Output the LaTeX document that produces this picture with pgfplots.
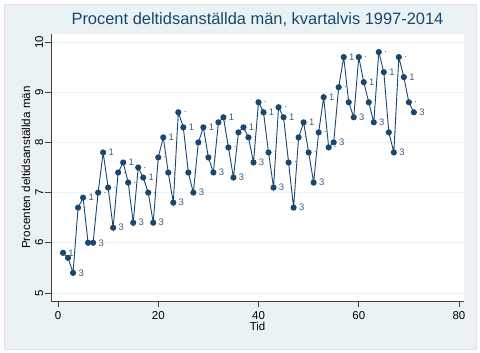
\documentclass[border=0pt]{standalone}
\usepackage{fontspec}
\setmainfont{Liberation Sans}
\usepackage{pgfplots}
\pgfplotsset{compat=1.18}
\definecolor{stbg}{RGB}{234,242,243}
\definecolor{stframe}{RGB}{220,228,230}
\definecolor{stnavy}{RGB}{26,71,111}
\definecolor{stlab}{RGB}{60,95,130}
\begin{document}
\begin{tikzpicture}
\path[use as bounding box] (-51bp,-52bp) rectangle (429bp,301bp);
\fill[white] (-51bp,-52bp) rectangle (429bp,301bp);
\filldraw[fill=stbg,draw=stframe,line width=0.6bp] (-47bp,-48bp) rectangle (425bp,297bp);
\begin{axis}[
  at={(0,0)}, anchor=south west,
  scale only axis, width=413bp, height=267bp,
  xmin=-1.4, xmax=81, ymin=4.84, ymax=10.16,
  axis x line*=bottom, axis y line*=left,
  axis line style={black!75, line width=0.6bp, -},
  xtick={0,20,40,60,80}, ytick={5,6,7,8,9,10},
  tick align=outside, major tick length=6bp,
  tick style={black!75, line width=0.6bp},
  ymajorgrids, grid style={stbg, line width=0.8bp},
  axis background/.style={fill=white},
  /pgf/number format/assume math mode=true,
  ticklabel style={font=\fontsize{11.5}{12}\selectfont, text=black},
  yticklabel style={rotate=90, anchor=south, inner sep=1.5bp},
  xticklabel style={anchor=north, yshift=-1bp},
  xlabel={Tid},
  ylabel={Procenten deltidsanställda män},
  xlabel style={font=\fontsize{11.5}{12}\selectfont, at={(axis description cs:0.5,0)}, anchor=north, yshift=-18bp},
  ylabel style={font=\fontsize{11.7}{12}\selectfont, at={(axis description cs:-0.042,0.5)}, anchor=south},
  title={Procent deltidsanställda män, kvartalvis 1997-2014},
  title style={font=\fontsize{16.5}{18}\selectfont, text=stnavy, at={(axis description cs:0.5,1)}, anchor=center, yshift=8bp},
  clip=false,
]
\addplot[stnavy, line width=0.9bp, mark=*, mark size=2.6bp, mark options={fill=stnavy, draw=stnavy},
  point meta=explicit symbolic,
  nodes near coords,
  nodes near coords style={anchor=west, inner sep=0pt, xshift=5bp, font=\fontsize{9.5}{10}\selectfont, text=stlab},
] table[x=t, y=v, meta=q] {
t v q
1 5.8 1
2 5.7 .
3 5.4 3
4 6.7 .
5 6.9 1
6 6.0 .
7 6.0 3
8 7.0 .
9 7.8 1
10 7.1 .
11 6.3 3
12 7.4 .
13 7.6 1
14 7.2 .
15 6.4 3
16 7.5 .
17 7.3 1
18 7.0 .
19 6.4 3
20 7.7 .
21 8.1 1
22 7.4 .
23 6.8 3
24 8.6 .
25 8.3 1
26 7.4 .
27 7.0 3
28 8.0 .
29 8.3 1
30 7.7 .
31 7.4 3
32 8.4 .
33 8.5 1
34 7.9 .
35 7.3 3
36 8.2 .
37 8.3 1
38 8.1 .
39 7.6 3
40 8.8 .
41 8.6 1
42 7.8 .
43 7.1 3
44 8.7 .
45 8.5 1
46 7.6 .
47 6.7 3
48 8.1 .
49 8.4 1
50 7.8 .
51 7.2 3
52 8.2 .
53 8.9 1
54 7.9 .
55 8.0 3
56 9.1 .
57 9.7 1
58 8.8 .
59 8.5 3
60 9.7 .
61 9.2 1
62 8.8 .
63 8.4 3
64 9.8 .
65 9.4 1
66 8.2 .
67 7.8 3
68 9.7 .
69 9.3 1
70 8.8 .
71 8.6 3
};
\end{axis}
\end{tikzpicture}
\end{document}
